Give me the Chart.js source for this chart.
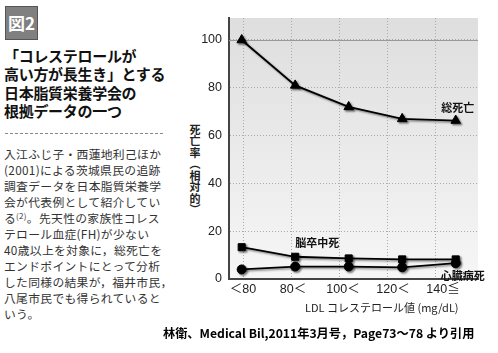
<!DOCTYPE html>
<html lang="ja">
<head>
<meta charset="utf-8">
<script src="https://cdn.jsdelivr.net/npm/chart.js@4.4.1/dist/chart.umd.min.js"></script>
<style>
  html, body { margin: 0; padding: 0; background: #fff; }
  body { width: 498px; height: 353px; position: relative; overflow: hidden;
         font-family: "Noto Sans CJK JP", "Liberation Sans", sans-serif; color: #222; }
  .fig { position: absolute; left: 5px; top: 6px; width: 31px; height: 32px; background: #808080;
         border: 1px solid #555; color: #fff; font-weight: bold; font-size: 17px; line-height: 32px; text-align: center; }
  .head { position: absolute; left: 4px; top: 47px; font-weight: bold; font-size: 15px; line-height: 18.3px; color: #111; letter-spacing: -0.3px; }
  .rule { position: absolute; left: 5px; top: 133px; width: 158px; border-top: 1px dashed #888; }
  .body { position: absolute; left: 4px; top: 146px; font-size: 11.8px; line-height: 16px; color: #333; letter-spacing: 0.3px; white-space: nowrap; }
  .body sup { font-size: 8px; vertical-align: 4px; line-height: 0; }
  #wrap { position: absolute; left: 180px; top: 0; width: 318px; height: 300px; }
  .ytitle { position: absolute; left: 189px; top: 124px; writing-mode: vertical-rl; font-size: 11px; font-weight: bold; line-height: 12px; color: #222; letter-spacing: 0.5px; }
  .xtitle { position: absolute; left: 305px; top: 299px; font-size: 11px; color: #222; white-space: nowrap; }
  .cite { position: absolute; left: 163px; top: 324px; font-size: 12.2px; font-weight: bold; color: #000; white-space: nowrap; }
</style>
</head>
<body>
<div class="fig">図2</div>
<div class="head">「コレステロールが<br>高い方が長生き」とする<br>日本脂質栄養学会の<br>根拠データの一つ</div>
<div class="rule"></div>
<div class="body">入江ふじ子・西蓮地利己ほか<br>(2001)による茨城県民の追跡<br>調査データを日本脂質栄養学<br>会が代表例として紹介してい<br>る<sup>(2)</sup>。先天性の家族性コレス<br>テロール血症(FH)が少ない<br>40歳以上を対象に，総死亡を<br>エンドポイントにとって分析<br>した同様の結果が，福井市民，<br>八尾市民でも得られていると<br>いう。</div>
<div class="ytitle">死亡率（相対的）</div>
<div id="wrap"><canvas id="chart" width="318" height="300"></canvas></div>
<div class="xtitle">LDL コレステロール値 (mg/dL)</div>
<div class="cite">林衛、Medical Bil,2011年3月号，Page73～78 より引用</div>

<script>
// ── data ─────────────────────────────────────────────────────────────
const categories = ['＜80', '80＜', '100＜', '120＜', '140≦'];
const totalDeath = [100, 81, 72, 67, 66.3];
const strokeDeath = [13.3, 9.3, 8.6, 8.2, 8.2];
const heartDeath = [4.0, 5.2, 5.2, 4.9, 6.6];
const yTicks = [0, 20, 40, 60, 80, 100];
const seriesNames = ['総死亡', '脳卒中死', '心臓病死'];

const FONT = '"Liberation Sans", "Noto Sans CJK JP", sans-serif';
const toXY = (arr) => arr.map((v, i) => ({ x: i, y: v }));

// background gradient, solid 100 line, drop shadow, series labels
const decor = {
  id: 'decor',
  beforeDraw(chart) {
    const { ctx, chartArea: a } = chart;
    const g = ctx.createLinearGradient(0, a.top, 0, a.bottom);
    g.addColorStop(0, '#dedede');
    g.addColorStop(1, '#f6f6f6');
    ctx.save();
    ctx.fillStyle = g;
    ctx.fillRect(a.left, a.top, a.right - a.left, a.bottom - a.top);
    ctx.restore();
  },
  beforeDatasetsDraw(chart) {
    const { ctx, chartArea: a, scales } = chart;
    const y = Math.round(scales.y.getPixelForValue(100)) + 0.5;
    ctx.save();
    ctx.strokeStyle = '#999';
    ctx.lineWidth = 1;
    ctx.beginPath();
    ctx.moveTo(a.left, y);
    ctx.lineTo(a.right, y);
    ctx.stroke();
    ctx.restore();
    ctx.save();
    ctx.shadowColor = 'rgba(0,0,0,0.45)';
    ctx.shadowOffsetX = 1.5;
    ctx.shadowOffsetY = 1.5;
    ctx.shadowBlur = 2;
  },
  afterDatasetsDraw(chart) {
    const { ctx } = chart;
    ctx.restore();
    const at = (ds, i) => chart.getDatasetMeta(ds).data[i];
    ctx.save();
    ctx.font = 'bold 11px "Noto Sans CJK JP", sans-serif';
    ctx.fillStyle = '#111';
    ctx.textAlign = 'center';
    ctx.textBaseline = 'middle';
    let p = at(0, 4);
    ctx.fillText(seriesNames[0], p.x + 2, p.y - 13);
    p = at(1, 1);
    ctx.fillText(seriesNames[1], p.x + 22, p.y - 14);
    p = at(2, 4);
    ctx.fillText(seriesNames[2], p.x + 7, p.y + 13);
    ctx.restore();
  }
};

const lineStyle = {
  borderColor: '#000',
  backgroundColor: '#000',
  borderWidth: 1.8,
  tension: 0,
  pointBorderColor: '#000',
  pointBackgroundColor: '#000',
  pointBorderWidth: 1,
};

new Chart(document.getElementById('chart'), {
  type: 'line',
  data: {
    datasets: [
      { ...lineStyle, label: seriesNames[0], data: toXY(totalDeath), pointStyle: 'triangle', pointRadius: 5.5 },
      { ...lineStyle, label: seriesNames[1], data: toXY(strokeDeath), pointStyle: 'rect', pointRadius: 5 },
      { ...lineStyle, label: seriesNames[2], data: toXY(heartDeath), pointStyle: 'circle', pointRadius: 4.5 },
    ],
  },
  options: {
    responsive: false,
    animation: false,
    events: [],
    layout: { padding: { top: 18, right: 20, left: 0, bottom: 0 } },
    plugins: { legend: { display: false }, tooltip: { enabled: false } },
    scales: {
      x: {
        type: 'linear', display: false,
        min: -0.237, max: 4.417,
      },
      xg: {
        type: 'linear', position: 'bottom',
        min: -0.298, max: 4.89,
        afterBuildTicks: (s) => { s.ticks = [0, 1, 2, 3, 4].map((v) => ({ value: v })); },
        afterFit: (s) => { s.height = 0; },
        ticks: { display: false },
        border: { display: false, dash: [1, 2] },
        grid: { color: '#aaa', lineWidth: 1, drawTicks: false },
      },
      xl: {
        type: 'linear', position: 'bottom',
        min: -0.28, max: 4.7,
        afterBuildTicks: (s) => { s.ticks = categories.map((c, i) => ({ value: i })); },
        afterFit: (s) => { s.height = 21; },
        ticks: {
          callback: (v) => categories[v] ?? '',
          color: '#222', font: { family: FONT, size: 12.5 }, padding: 3, maxRotation: 0, autoSkip: false,
        },
        border: { display: true, color: '#444', width: 2 },
        grid: { display: false, drawTicks: false },
      },
      y: {
        type: 'linear', min: 0, max: 109.2,
        afterBuildTicks: (s) => { s.ticks = yTicks.map((v) => ({ value: v })); },
        afterFit: (s) => { s.width = 49; },
        ticks: { color: '#222', font: { family: FONT, size: 12.5 }, padding: 7 },
        border: { display: true, color: '#444', width: 2, dash: [1, 2] },
        grid: { color: (c) => (c.tick && c.tick.value === 0 ? 'rgba(0,0,0,0)' : '#aaa'), lineWidth: 1, drawTicks: false },
      },
    },
  },
  plugins: [decor],
});
</script>
</body>
</html>
